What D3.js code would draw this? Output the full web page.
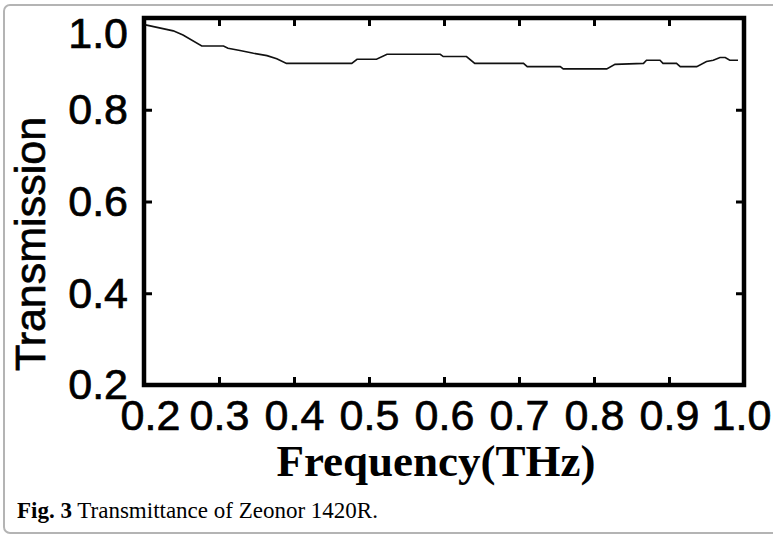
<!DOCTYPE html>
<html>
<head>
<meta charset="utf-8">
<script src="https://cdn.jsdelivr.net/npm/d3@7"></script>
<style>
  body { margin: 0; background: #fff; }
</style>
</head>
<body>
<div id="chart"></div>
<script>
const freq = [0.202, 0.239, 0.252, 0.277, 0.306, 0.312, 0.328, 0.346, 0.364, 0.377, 0.390,
  0.477, 0.484, 0.510, 0.524, 0.595, 0.599, 0.630, 0.641, 0.706, 0.711, 0.755, 0.759,
  0.817, 0.828, 0.866, 0.870, 0.888, 0.892, 0.910, 0.915, 0.937, 0.950, 0.959, 0.968,
  0.975, 0.981, 0.992];
const trans = [0.985, 0.972, 0.963, 0.939, 0.939, 0.934, 0.929, 0.923, 0.918, 0.911, 0.901,
  0.901, 0.910, 0.910, 0.921, 0.921, 0.916, 0.916, 0.901, 0.901, 0.894, 0.894, 0.889,
  0.889, 0.899, 0.901, 0.908, 0.908, 0.901, 0.901, 0.894, 0.894, 0.905, 0.908, 0.914,
  0.914, 0.908, 0.908];
const xTicks = [0.2, 0.3, 0.4, 0.5, 0.6, 0.7, 0.8, 0.9, 1.0];
const yTicks = [0.2, 0.4, 0.6, 0.8, 1.0];

const width = 773;
const height = 537;
const margin = { top: 18, right: 29, bottom: 152, left: 144 };

const svg = d3.select('#chart')
  .append('svg')
  .attr('width', width)
  .attr('height', height);

// outer light border of the figure
svg.append('rect')
  .attr('x', 4).attr('y', 5)
  .attr('width', 780).attr('height', 528)
  .attr('rx', 6)
  .attr('fill', 'none')
  .attr('stroke', '#b4b4b4')
  .attr('stroke-width', 2);

const x = d3.scaleLinear()
  .domain([0.2, 1.0])
  .range([margin.left, width - margin.right]);

const y = d3.scaleLinear()
  .domain([0.2, 1.0])
  .range([height - margin.bottom, margin.top]);

const fmt = d3.format('.1f');

function styleAxis(g) {
  g.select('.domain').remove();
  g.selectAll('.tick line').attr('stroke', '#000').attr('stroke-width', 3);
}

function styleLabels(g) {
  g.selectAll('text')
    .attr('font-family', '"Liberation Sans", Arial, sans-serif')
    .attr('font-size', 43)
    .attr('fill', '#000')
    .attr('stroke', '#000')
    .attr('stroke-width', 0.7);
}

// bottom axis (ticks inward, labels below)
svg.append('g')
  .attr('transform', `translate(0,${y(0.2)})`)
  .call(d3.axisBottom(x).tickValues(xTicks).tickFormat(fmt).tickSizeInner(-8).tickSizeOuter(0).tickPadding(14))
  .call(styleAxis)
  .call(styleLabels)
  .call(g => g.selectAll('.tick').filter(d => d === 0.2).select('text').attr('dx', 6))
  .call(g => g.selectAll('.tick').filter(d => d === 1.0).select('text').attr('dx', -3));

// left axis
svg.append('g')
  .attr('transform', `translate(${x(0.2)},0)`)
  .call(d3.axisLeft(y).tickValues(yTicks).tickFormat(fmt).tickSizeInner(-8).tickSizeOuter(0).tickPadding(16))
  .call(styleAxis)
  .call(styleLabels)
  .call(g => g.selectAll('.tick').filter(d => d === 1.0).select('text').attr('dy', '0.68em'));

// top and right axes, ticks only
svg.append('g')
  .attr('transform', `translate(0,${y(1.0)})`)
  .call(d3.axisTop(x).tickValues(xTicks.slice(1, -1)).tickFormat('').tickSizeInner(-8).tickSizeOuter(0))
  .call(styleAxis);

svg.append('g')
  .attr('transform', `translate(${x(1.0)},0)`)
  .call(d3.axisRight(y).tickValues(yTicks.slice(1, -1)).tickFormat('').tickSizeInner(-8).tickSizeOuter(0))
  .call(styleAxis);

// frame
svg.append('rect')
  .attr('x', x(0.2)).attr('y', y(1.0))
  .attr('width', x(1.0) - x(0.2))
  .attr('height', y(0.2) - y(1.0))
  .attr('fill', 'none')
  .attr('stroke', '#000')
  .attr('stroke-width', 4.5);

// transmission curve
const line = d3.line()
  .x((d, i) => x(freq[i]))
  .y(d => y(d));

svg.append('path')
  .datum(trans)
  .attr('fill', 'none')
  .attr('stroke', '#111')
  .attr('stroke-width', 1.6)
  .attr('d', line);

// axis titles
svg.append('text')
  .attr('transform', 'translate(45,244) rotate(-90)')
  .attr('text-anchor', 'middle')
  .attr('font-family', '"Liberation Sans", Arial, sans-serif')
  .attr('font-size', 43)
  .attr('fill', '#000')
  .attr('stroke', '#000')
  .attr('stroke-width', 0.7)
  .text('Transmission');

svg.append('text')
  .attr('x', 436)
  .attr('y', 476)
  .attr('text-anchor', 'middle')
  .attr('font-family', '"Liberation Serif", "Times New Roman", serif')
  .attr('font-weight', 'bold')
  .attr('font-size', 45)
  .attr('fill', '#000')
  .text('Frequency(THz)');

// caption
const cap = svg.append('text')
  .attr('x', 17)
  .attr('y', 518)
  .attr('font-family', '"Liberation Serif", "Times New Roman", serif')
  .attr('font-size', 23)
  .attr('fill', '#000');
cap.append('tspan').attr('font-weight', 'bold').text('Fig. 3');
cap.append('tspan').text(' Transmittance of Zeonor 1420R.');
</script>
</body>
</html>
